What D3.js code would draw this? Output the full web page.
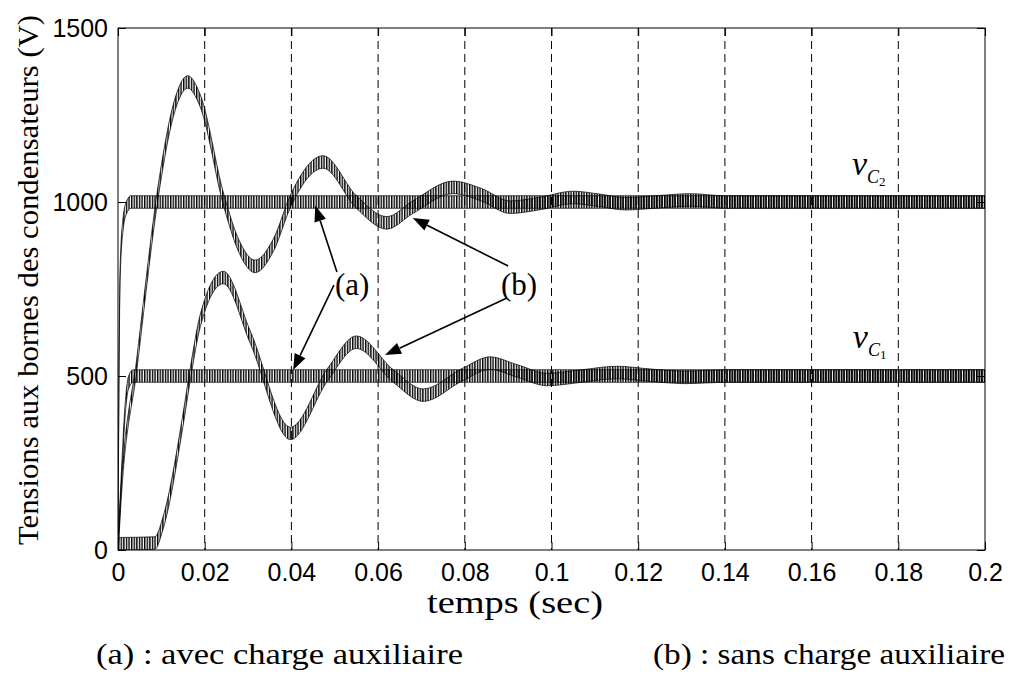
<!DOCTYPE html>
<html>
<head>
<meta charset="utf-8">
<script src="https://cdn.jsdelivr.net/npm/d3@7"></script>
<style>
  body { margin: 0; background: #fff; }
  svg { display: block; }
  .tick text { font-family: "Liberation Sans", Arial, sans-serif; font-size: 25px; fill: #000; }
  .tick line { stroke: #000; }
  .serif { font-family: "Liberation Serif", "Times New Roman", serif; fill: #000; }
</style>
</head>
<body>
<svg id="chart" width="1012" height="677"></svg>
<script>
"use strict";

// valeurs : temps (s) et tension (V)
// (b) sans charge auxiliaire, vC2
var tB2 = [0, 0.0005, 0.0044, 0.0097, 0.0125, 0.0161, 0.0189, 0.0245, 0.028, 0.0316, 0.036, 0.0397,
           0.0473, 0.055, 0.062, 0.068, 0.0773, 0.084, 0.0904, 0.097, 0.105, 0.111, 0.117, 0.124, 0.132, 0.14, 0.2];
var vB2 = [0, 115, 540, 1065, 1250, 1345, 1293, 1000, 870, 815, 880, 1000,
           1115, 1000, 940, 985, 1042, 1020, 985, 995, 1013, 1005, 995, 1000, 1006, 1000, 1000];
// (b) sans charge auxiliaire, vC1
var tB1 = [0, 0.0085, 0.0104, 0.015, 0.0166, 0.019, 0.0243, 0.0305, 0.0398, 0.0484, 0.055, 0.0635,
           0.0704, 0.0796, 0.0858, 0.092, 0.099, 0.107, 0.115, 0.123, 0.131, 0.14, 0.2];
var vB1 = [18, 20, 78, 374, 500, 660, 783, 612, 335, 505, 597, 500,
           445, 505, 537, 515, 490, 500, 510, 502, 496, 500, 500];
// (a) avec charge auxiliaire
var tA2 = [0, 0.0002, 0.0005, 0.0012, 0.002, 0.003, 0.2];
var vA2 = [0, 450, 800, 940, 985, 1000, 1000];
var tA1 = [0, 0.0008, 0.0016, 0.0024, 0.0035, 0.2];
var vA1 = [0, 210, 394, 480, 500, 500];
var ripple = 18; // demi-amplitude de l'ondulation (V)

var xTicks = [0, 0.02, 0.04, 0.06, 0.08, 0.1, 0.12, 0.14, 0.16, 0.18, 0.2];
var xTickLabels = ["0", "0.02", "0.04", "0.06", "0.08", "0.1", "0.12", "0.14", "0.16", "0.18", "0.2"];
var yTicks = [0, 500, 1000, 1500];
var yTickLabels = ["0", "500", "1000", "1500"];

// annotations (coordonnées en temps / tension)
var noteText = ["(a)", "(b)"];
var noteT = [0.054, 0.0925];
var noteV = [733, 733];
// flèches : [t départ, v départ, t pointe, v pointe]
var arrows = [
  [0.0505, 799, 0.0455, 990],
  [0.0498, 761, 0.0404, 517],
  [0.0900, 816, 0.0680, 954],
  [0.0897, 724, 0.0616, 560]
];
var curveNames = ["C2", "C1"];
var curveLabT = [0.1693, 0.1695];
var curveLabV = [1078, 580];

var svg = d3.select("#chart");
var margin = { left: 118, top: 28, right: 27, bottom: 127 };
var W = 1012 - margin.left - margin.right;
var H = 677 - margin.top - margin.bottom;

var x = d3.scaleLinear().domain([0, 0.2]).range([0, W]);
var y = d3.scaleLinear().domain([0, 1500]).range([H, 0]);

var defs = svg.append("defs");
defs.append("clipPath").attr("id", "clip")
  .append("rect").attr("width", W).attr("height", H);
var pat = defs.append("pattern").attr("id", "hatch")
  .attr("patternUnits", "userSpaceOnUse").attr("width", 2.6).attr("height", 10);
pat.append("line").attr("x1", 0.7).attr("x2", 0.7).attr("y1", 0).attr("y2", 10)
  .attr("stroke", "#000").attr("stroke-width", 1.4);

var g = svg.append("g").attr("transform", "translate(" + margin.left + "," + margin.top + ")");

// grille verticale pointillée
g.selectAll(".grid").data(xTicks.slice(1, -1)).enter().append("line")
  .attr("class", "grid")
  .attr("x1", d => x(d)).attr("x2", d => x(d))
  .attr("y1", 0).attr("y2", H)
  .attr("stroke", "#000").attr("stroke-width", 1).attr("stroke-dasharray", "8,5");

// axes
var xAxis = d3.axisBottom(x).tickValues(xTicks).tickFormat((d, i) => xTickLabels[i])
  .tickSizeInner(-8).tickSizeOuter(0).tickPadding(13);
g.append("g").attr("transform", "translate(0," + H + ")").call(xAxis)
  .call(a => a.select(".domain").remove());
g.append("g").call(d3.axisTop(x).tickValues(xTicks).tickFormat("").tickSizeInner(-8).tickSizeOuter(0))
  .call(a => a.select(".domain").remove());
g.append("g").call(d3.axisLeft(y).tickValues(yTicks).tickFormat((d, i) => yTickLabels[i])
    .tickSizeInner(-8).tickSizeOuter(0).tickPadding(10))
  .call(a => a.select(".domain").remove());
g.append("g").attr("transform", "translate(" + W + ",0)")
  .call(d3.axisRight(y).tickValues(yTicks).tickFormat("").tickSizeInner(-8).tickSizeOuter(0))
  .call(a => a.select(".domain").remove());

// courbes : bande hachurée représentant l'ondulation
var series = [[tB2, vB2], [tB1, vB1], [tA2, vA2], [tA1, vA1]];
var area = d3.area()
  .x(d => x(d.t))
  .y0(d => y(d.v - ripple))
  .y1(d => y(d.v + ripple))
  .curve(d3.curveMonotoneX);
var plot = g.append("g").attr("clip-path", "url(#clip)");
series.forEach(s => {
  var pts = s[0].map((t, i) => ({ t: t, v: s[1][i] }));
  plot.append("path").datum(pts).attr("d", area)
    .attr("fill", "url(#hatch)").attr("stroke", "#000").attr("stroke-width", 0.7);
});

// cadre
g.append("rect").attr("width", W).attr("height", H)
  .attr("fill", "none").attr("stroke", "#000").attr("stroke-width", 1);

// flèches
arrows.forEach(a => {
  var x0 = x(a[0]), y0 = y(a[1]), x1 = x(a[2]), y1 = y(a[3]);
  var ang = Math.atan2(y1 - y0, x1 - x0);
  var L = 16, hw = 6;
  var bx = x1 - L * Math.cos(ang), by = y1 - L * Math.sin(ang);
  g.append("line").attr("x1", x0).attr("y1", y0).attr("x2", bx).attr("y2", by)
    .attr("stroke", "#000").attr("stroke-width", 1.6);
  g.append("polygon")
    .attr("points", [[x1, y1],
      [bx + hw * Math.sin(ang), by - hw * Math.cos(ang)],
      [bx - hw * Math.sin(ang), by + hw * Math.cos(ang)]].map(p => p.join(",")).join(" "))
    .attr("fill", "#000");
});

g.selectAll(".note").data(noteText).enter().append("text")
  .attr("class", "serif note")
  .attr("x", (d, i) => x(noteT[i])).attr("y", (d, i) => y(noteV[i]))
  .attr("text-anchor", "middle").attr("font-size", 31)
  .text(d => d);

// étiquettes vC2, vC1
curveNames.forEach((n, i) => {
  var t = g.append("text").attr("class", "serif")
    .attr("x", x(curveLabT[i])).attr("y", y(curveLabV[i]));
  t.append("tspan").attr("font-style", "italic").attr("font-size", 34).text("v");
  t.append("tspan").attr("font-style", "italic").attr("font-size", 18).attr("dy", 8).text(n[0]);
  t.append("tspan").attr("font-size", 13).attr("dy", 3).text(n[1]);
});

// titres des axes
svg.append("text").attr("class", "serif")
  .attr("transform", "translate(38,280) rotate(-90)")
  .attr("text-anchor", "middle").attr("font-size", 30)
  .attr("textLength", 530).attr("lengthAdjust", "spacingAndGlyphs")
  .text("Tensions aux bornes des condensateurs (V)");
svg.append("text").attr("class", "serif")
  .attr("x", 515).attr("y", 613).attr("text-anchor", "middle").attr("font-size", 31)
  .attr("textLength", 176).attr("lengthAdjust", "spacingAndGlyphs")
  .text("temps (sec)");

// légende sous le graphique
svg.append("text").attr("class", "serif")
  .attr("x", 96).attr("y", 664).attr("font-size", 30)
  .attr("textLength", 367).attr("lengthAdjust", "spacingAndGlyphs")
  .text("(a) : avec charge auxiliaire");
svg.append("text").attr("class", "serif")
  .attr("x", 653).attr("y", 664).attr("font-size", 30)
  .attr("textLength", 352).attr("lengthAdjust", "spacingAndGlyphs")
  .text("(b) : sans charge auxiliaire");
</script>
</body>
</html>
